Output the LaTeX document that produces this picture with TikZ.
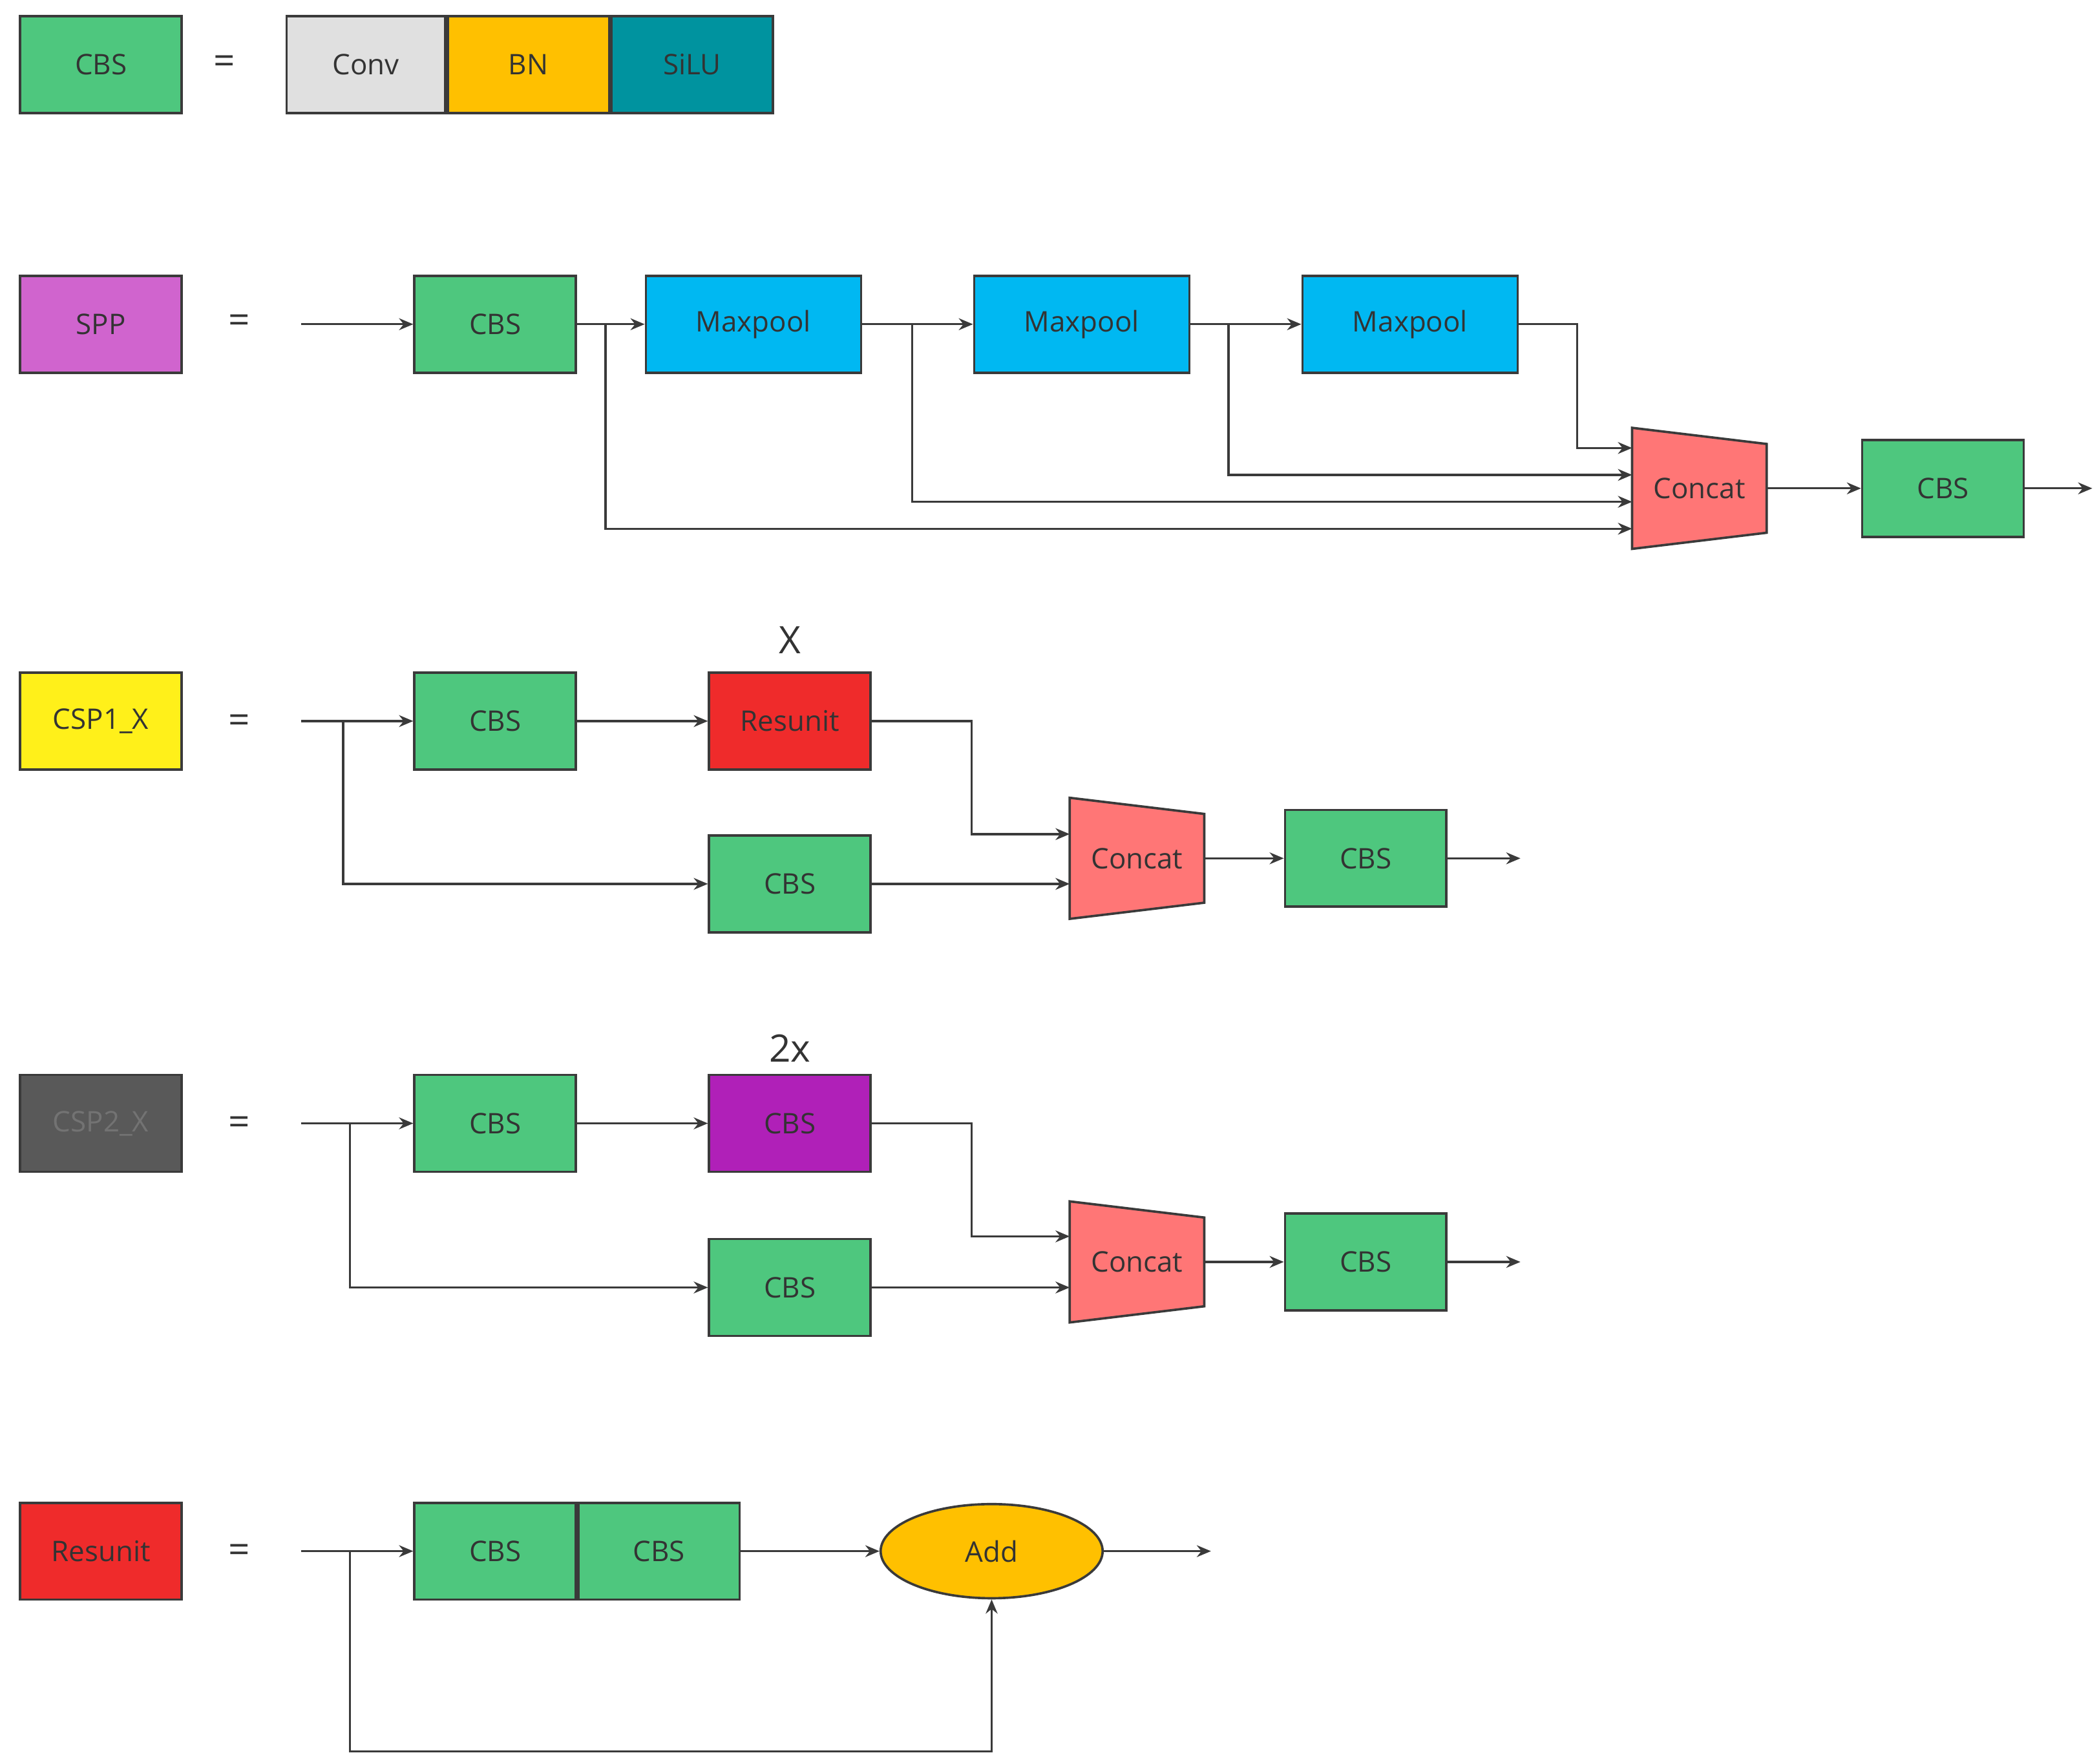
\documentclass[tikz,border=0pt]{standalone}
\usepackage{fontspec}
\setmainfont{Open Sans}
\usetikzlibrary{arrows.meta,calc,shapes.geometric}
\definecolor{cbsgreen}{HTML}{4EC77E}
\definecolor{convgray}{HTML}{E0E0E0}
\definecolor{bnyellow}{HTML}{FFC000}
\definecolor{silucyan}{HTML}{00939F}
\definecolor{sppviolet}{HTML}{D064CE}
\definecolor{poolblue}{HTML}{00B8F2}
\definecolor{cspyellow}{HTML}{FFF01A}
\definecolor{cspdark}{HTML}{595959}
\definecolor{resred}{HTML}{EF2B2B}
\definecolor{cbspurple}{HTML}{B020B8}
\definecolor{catpink}{HTML}{FF7676}
\definecolor{linegray}{HTML}{3A3A3A}
\tikzset{
  blk/.style={draw=linegray,line width=1pt,minimum width=2.4cm,minimum height=1.44cm,inner sep=0pt,font=\fontsize{12}{14}\selectfont,text=black!80},
  cbs/.style={blk,fill=cbsgreen},
  pool/.style={blk,fill=poolblue,minimum width=3.2cm},
  eq/.style={font=\fontsize{16}{18}\selectfont,text=black!80},
  con/.style={draw=linegray,line width=0.9pt,-{Stealth[length=6pt,width=5pt]}},
  ln/.style={draw=linegray,line width=0.9pt},
}
% trapezoid concat block: name, centre x, centre y (px units)
\newcommand{\concatblk}[3]{%
  \fill[catpink,draw=linegray,line width=1pt] (#2-50,#3-45) -- (#2+50,#3-33) -- (#2+50,#3+33) -- (#2-50,#3+45) -- cycle;
  \node[font=\fontsize{12}{14}\selectfont,text=black!80,minimum width=2cm,minimum height=1.8cm,inner sep=0pt] (#1) at (#2,#3) {Concat};}
\begin{document}
\begin{tikzpicture}[x=0.02cm,y=-0.02cm]
\useasboundingbox (0,0) rectangle (1560,1311);
% legend
\node[cbs] (cbs0) at (75,48) {CBS};
\node[eq] at (167,48) {=};
\node[blk,fill=convgray,minimum width=2.36cm] (conv) at (272,48) {Conv};
\node[blk,fill=bnyellow,minimum width=2.4cm,anchor=west] (bn) at (conv.east) {BN};
\node[blk,fill=silucyan,minimum width=2.4cm,anchor=west] (silu) at (bn.east) {SiLU};
% SPP
\node[blk,fill=sppviolet] (spp) at (75,241) {SPP};
\node[eq] at (178,241) {=};
\coordinate (sppin) at (224,241);
\node[cbs] (sppcbs) at (368,241) {CBS};
\node[pool] (mp1) at (560,241) {Maxpool};
\node[pool] (mp2) at (804,241) {Maxpool};
\node[pool] (mp3) at (1048,241) {Maxpool};
\concatblk{sppcat}{1263}{363}
\node[cbs] (sppout) at (1444,363) {CBS};
\coordinate (sppend) at (1555,363);
\draw[con] (sppin) -- (sppcbs);
\draw[con] (sppcbs) -- (mp1);
\draw[con] (mp1) -- (mp2);
\draw[con] (mp2) -- (mp3);
\draw[con] (mp3.east) -| (1172,333) -- (1213,333);
\draw[con] (913,241) |- (1213,353);
\draw[con] (678,241) |- (1213,373);
\draw[con] (450,241) |- (1213,393);
\draw[con] (1313,363) -- (sppout);
\draw[con] (sppout) -- (sppend);
% CSP1_X
\node[blk,fill=cspyellow] (csp1) at (75,536) {CSP1\_X};
\node[eq] at (178,538) {=};
\coordinate (c1in) at (224,536);
\node[cbs] (c1a) at (368,536) {CBS};
\node[blk,fill=resred] (c1res) at (587,536) {Resunit};
\node[eq] at (587,476) {X};
\node[cbs] (c1b) at (587,657) {CBS};
\concatblk{c1cat}{845}{638}
\node[cbs] (c1out) at (1015,638) {CBS};
\coordinate (c1end) at (1130,638);
\draw[con] (c1in) -- (c1a);
\draw[con] (255,536) |- (c1b);
\draw[con] (c1a) -- (c1res);
\draw[con] (c1res.east) -| (722,620) -- (795,620);
\draw[con] (c1b) -- (795,657);
\draw[con] (895,638) -- (c1out);
\draw[con] (c1out) -- (c1end);
% CSP2_X
\node[blk,fill=cspdark,text=black!55] (csp2) at (75,835) {CSP2\_X};
\node[eq] at (178,837) {=};
\coordinate (c2in) at (224,835);
\node[cbs] (c2a) at (368,835) {CBS};
\node[blk,fill=cbspurple] (c2p) at (587,835) {CBS};
\node[eq] at (587,779) {2x};
\node[cbs] (c2b) at (587,957) {CBS};
\concatblk{c2cat}{845}{938}
\node[cbs] (c2out) at (1015,938) {CBS};
\coordinate (c2end) at (1130,938);
\draw[con] (c2in) -- (c2a);
\draw[con] (260,835) |- (c2b);
\draw[con] (c2a) -- (c2p);
\draw[con] (c2p.east) -| (722,919) -- (795,919);
\draw[con] (c2b) -- (795,957);
\draw[con] (895,938) -- (c2out);
\draw[con] (c2out) -- (c2end);
% Resunit
\node[blk,fill=resred] (res) at (75,1153) {Resunit};
\node[eq] at (178,1155) {=};
\coordinate (rin) at (224,1153);
\node[cbs] (ra) at (368,1153) {CBS};
\node[cbs,anchor=west] (rb) at (ra.east) {CBS};
\node[ellipse,draw=linegray,line width=1pt,fill=bnyellow,minimum width=3.3cm,minimum height=1.4cm,inner sep=0pt,font=\fontsize{12}{14}\selectfont,text=black!80] (add) at (737,1153) {Add};
\coordinate (rend) at (900,1153);
\draw[con] (rin) -- (ra);
\draw[con] (rb) -- (add);
\draw[con] (add) -- (rend);
\draw[con] (260,1153) -- (260,1302) -| (add.south);
\end{tikzpicture}
\end{document}
